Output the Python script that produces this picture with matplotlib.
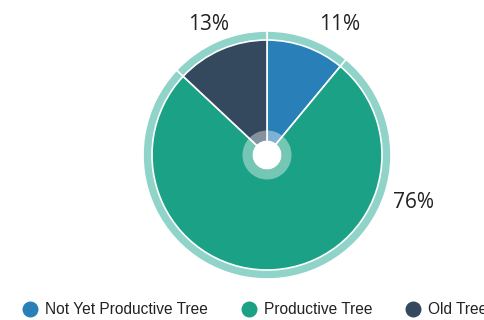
import matplotlib.pyplot as plt
from matplotlib.lines import Line2D

# data
categories = ['Not Yet Productive Tree', 'Productive Tree', 'Old Tree']
shares = [11, 76, 13]
colors = ['#2980b9', '#1ba185', '#34495e']
ring_color = '#8fd3c9'

# label positions (pixels from pie centre) - layout only
label_offsets = [(73, 130), (147, -48), (-58, 130)]

W, H = 484, 320
cx, cy = 267, 155  # pie centre, px from top-left

fig = plt.figure(figsize=(W / 100, H / 100), dpi=100, facecolor='w')
ax = fig.add_axes([0, 0, 1, 1])

# outer light ring
ax.pie(shares, radius=124, startangle=90, counterclock=False,
       colors=[ring_color] * len(shares),
       wedgeprops=dict(width=14, edgecolor='white', linewidth=1.2))
# main slices
ax.pie(shares, radius=115, startangle=90, counterclock=False, colors=colors,
       wedgeprops=dict(edgecolor='white', linewidth=1.2))
# translucent inner ring + hole
ax.pie([1], radius=24.5, colors=['white'],
       wedgeprops=dict(width=10, alpha=0.4, linewidth=0))
ax.pie([1], radius=14.5, colors=['white'], wedgeprops=dict(linewidth=0))

ax.set_xlim(-cx, W - cx)
ax.set_ylim(-(H - cy), cy)
ax.set_aspect('equal')
ax.axis('off')

for val, (dx, dy) in zip(shares, label_offsets):
    ax.text(dx, dy, f'{val}%', ha='center', va='center', fontsize=15,
            family='Open Sans', color='#222222')

handles = [Line2D([], [], marker='o', linestyle='', markersize=11.5,
                  markerfacecolor=c, markeredgewidth=0) for c in colors]
fig.legend(handles, categories, loc='center left', ncol=3, frameon=False,
           bbox_to_anchor=(22 / W, 1 - 310 / H), borderaxespad=0, borderpad=0,
           handlelength=1.03, handletextpad=0.45, columnspacing=2.1,
           prop=dict(family='Liberation Sans', size=11.2), labelcolor='#222222')

fig.savefig('out.png', dpi=100)
